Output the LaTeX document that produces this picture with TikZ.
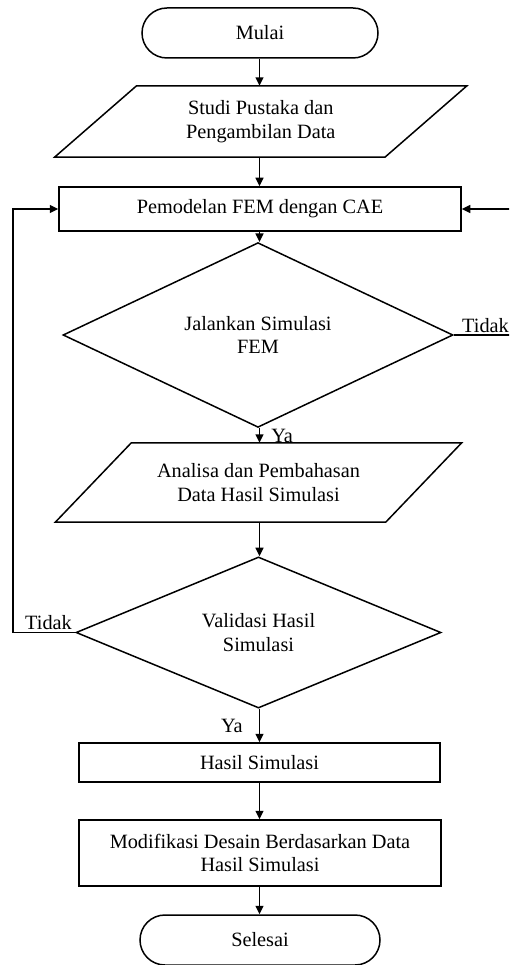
\documentclass[tikz,border=0pt]{standalone}
\usepackage{fontspec}
\setmainfont{Liberation Serif}
\usetikzlibrary{shapes.geometric,shapes.misc,arrows.meta}
\begin{document}
\begin{tikzpicture}[x=1pt,y=-1pt,
  txt/.style={font=\fontsize{20.3}{23.5}\selectfont},
  box/.style={txt, draw, line width=1.5pt, rectangle, inner sep=0pt, align=center},
  term/.style={txt, draw, line width=1.5pt, rounded rectangle, inner sep=0pt, align=center},
  io/.style={txt, rectangle, inner sep=0pt, align=center},
  dec/.style={txt, draw, line width=1.5pt, diamond, inner sep=0pt, align=center},
  conn/.style={line width=1.5pt, -{Triangle[length=8.5pt,width=8pt]}},
  line/.style={line width=1.5pt, line join=miter},
  lbl/.style={txt, inner sep=0pt}]
\path[use as bounding box, clip] (0,0) rectangle (509,965);
\fill[white] (0,0) rectangle (509,965);

\node[term, minimum width=236pt, minimum height=50pt] (mulai) at (260,33) {Mulai};
\node[io, minimum width=330pt, minimum height=71pt] (studi) at (260.75,121.5) {Studi Pustaka dan\\Pengambilan Data};
\draw[line] ([xshift=-41pt]studi.south west) -- ([xshift=-41pt]studi.south east)
  -- ([xshift=41pt]studi.north east) -- ([xshift=41pt]studi.north west) -- cycle;
\node[box, minimum width=402pt, minimum height=44pt] (model) at (260,209) {Pemodelan FEM dengan CAE};
\node[dec, minimum width=390pt, minimum height=150pt] (d1) at (258,335) {Jalankan Simulasi\\FEM};
\node[io, minimum width=330pt, minimum height=79pt] (anal) at (258.5,482.5) {Analisa dan Pembahasan\\Data Hasil Simulasi};
\draw[line] ([xshift=-38pt]anal.south west) -- ([xshift=-38pt]anal.south east)
  -- ([xshift=38pt]anal.north east) -- ([xshift=38pt]anal.north west) -- cycle;
\node[dec, minimum width=365pt, minimum height=145pt] (d2) at (258.5,632.5) {Validasi Hasil\\Simulasi};
\node[box, minimum width=361pt, minimum height=39pt] (hasil) at (259.5,762.5) {Hasil Simulasi};
\node[box, minimum width=362pt, minimum height=66pt] (modif) at (260,853) {Modifikasi Desain Berdasarkan Data\\Hasil Simulasi};
\node[term, minimum width=240pt, minimum height=50pt] (selesai) at (260,940) {Selesai};

\coordinate (cx) at (259.5,0);
\draw[conn] (cx |- mulai.south) -- (cx |- studi.north);
\draw[conn] (cx |- studi.south) -- (cx |- model.north);
\draw[conn] (cx |- model.south) -- (cx |- d1.north);
\draw[conn] (cx |- d1.south) -- node[lbl, anchor=west, xshift=11pt] (ya1) {Ya} (cx |- anal.north);
\draw[conn] (cx |- anal.south) -- (cx |- d2.north);
\draw[conn] (cx |- d2.south) -- node[lbl, anchor=east, xshift=-16pt] (ya2) {Ya} (cx |- hasil.north);
\draw[conn] (cx |- hasil.south) -- (cx |- modif.north);
\draw[conn] (cx |- modif.south) -- (cx |- selesai.north);

\coordinate (lc) at (13,632.5);
\draw[conn, line join=miter] (d2.west) -- (lc) |- (model.west);
\node[lbl, anchor=base west] (tidak2) at (25,629) {Tidak};

\coordinate (rc) at (525,335);
\draw[conn, line join=miter] (d1.east) -- (rc) |- (model.east);
\node[lbl, anchor=base west] (tidak1) at (462,332) {Tidak};
\end{tikzpicture}
\end{document}
